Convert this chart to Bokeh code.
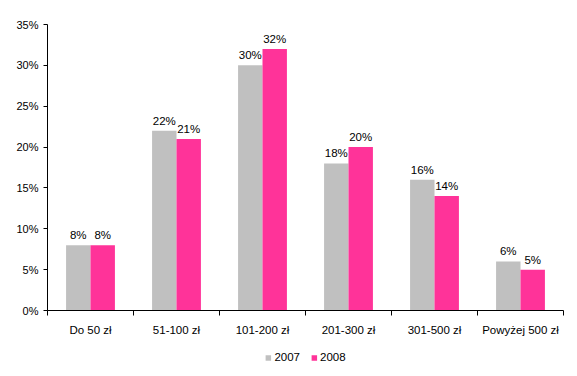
from bokeh.plotting import figure
from bokeh.layouts import column
from bokeh.models import ColumnDataSource, FixedTicker, Range1d, Legend, LegendItem
from bokeh.core.properties import value
from bokeh.embed import file_html
from bokeh.resources import INLINE

categories = ["Do 50 zł", "51-100 zł", "101-200 zł", "201-300 zł", "301-500 zł", "Powyżej 500 zł"]
series_names = ["2007", "2008"]
values_2007 = [8, 22, 30, 18, 16, 6]
values_2008 = [8, 21, 32, 20, 14, 5]
y_ticks = [0, 5, 10, 15, 20, 25, 30, 35]

FONT = "Liberation Sans"
GRAY = "#C0C0C0"
PINK = "#FF3399"

p = figure(width=577, height=340, output_backend="svg", toolbar_location=None,
           x_range=Range1d(0, len(categories)), y_range=Range1d(0, 35))
p.min_border_left = 47
p.min_border_right = 14
p.min_border_top = 24
p.min_border_bottom = 30
p.outline_line_color = None
p.xgrid.visible = False
p.ygrid.visible = False
p.background_fill_color = "white"
p.border_fill_color = "white"

centers = [i + 0.5 for i in range(len(categories))]
off = 0.142
w = 0.284
src07 = ColumnDataSource(dict(x=[c - off for c in centers], top=values_2007,
                              lab=[f"{v}%" for v in values_2007]))
src08 = ColumnDataSource(dict(x=[c + off for c in centers], top=values_2008,
                              lab=[f"{v}%" for v in values_2008]))

p.vbar(x="x", top="top", width=w, source=src07, fill_color=GRAY, line_color=None)
p.vbar(x="x", top="top", width=w, source=src08, fill_color=PINK, line_color=None)

for s in (src07, src08):
    p.text(x="x", y="top", text="lab", source=s, text_align="center", text_baseline="bottom",
           y_offset=-4, text_font=value(FONT), text_font_size="11.5px", text_color="black")

# x axis: labels at centers, ticks at boundaries (minor ticks)
p.xaxis.ticker = FixedTicker(ticks=centers, minor_ticks=list(range(len(categories) + 1)))
p.xaxis.major_label_overrides = {c: categories[i] for i, c in enumerate(centers)}
p.xaxis.major_tick_in = 0
p.xaxis.major_tick_out = 0
p.xaxis.minor_tick_in = 0
p.xaxis.minor_tick_out = 5
p.xaxis.minor_tick_line_color = "black"
p.xaxis.axis_line_color = "black"
p.xaxis.major_label_standoff = 8
p.xaxis.major_label_text_font = FONT
p.xaxis.major_label_text_font_size = "11.5px"
p.xaxis.major_label_text_color = "black"

p.yaxis.ticker = FixedTicker(ticks=y_ticks, minor_ticks=[])
p.yaxis.major_label_overrides = {t: f"{t}%" for t in y_ticks}
p.yaxis.major_tick_in = 0
p.yaxis.major_tick_out = 4
p.yaxis.major_tick_line_color = "black"
p.yaxis.axis_line_color = "black"
p.yaxis.major_label_standoff = 5
p.yaxis.major_label_text_font = FONT
p.yaxis.major_label_text_font_size = "11px"
p.yaxis.major_label_text_color = "black"

# legend strip below the chart (its key renderers use the same data, drawn out of view)
lg = figure(width=577, height=36, output_backend="svg", toolbar_location=None,
            x_axis_location=None, y_axis_location=None,
            x_range=Range1d(0, len(categories)), y_range=Range1d(1000, 1001))
lg.min_border = 0
lg.outline_line_color = None
lg.xgrid.visible = False
lg.ygrid.visible = False
k07 = lg.vbar(x="x", top="top", width=w, source=src07, fill_color=GRAY, line_color=None)
k08 = lg.vbar(x="x", top="top", width=w, source=src08, fill_color=PINK, line_color=None)
legend = Legend(items=[LegendItem(label=series_names[0], renderers=[k07]),
                       LegendItem(label=series_names[1], renderers=[k08])],
                orientation="horizontal", location="top_center",
                glyph_width=7, glyph_height=7, label_standoff=3, spacing=10,
                label_text_font=FONT, label_text_font_size="11.5px", label_text_color="black",
                border_line_color=None, background_fill_alpha=0,
                padding=0, margin=11, label_height=12)
lg.add_layout(legend, "center")

layout = column(p, lg, spacing=0)
open("out.html", "w").write(file_html(layout, INLINE))
